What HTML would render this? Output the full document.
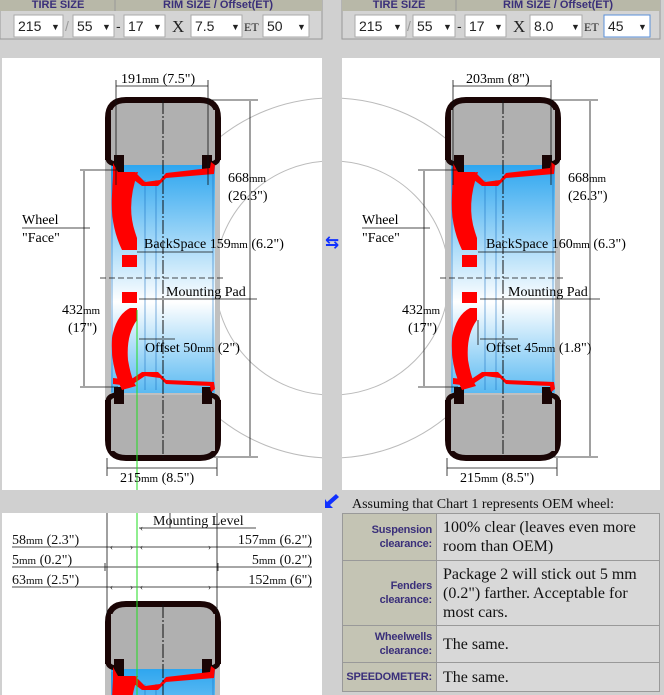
<!DOCTYPE html>
<html><head><meta charset="utf-8">
<style>
html,body{margin:0;padding:0;background:#d0d0d0;width:664px;height:695px;overflow:hidden;font-family:"Liberation Serif",serif}
svg{position:absolute;left:0;top:0}
.c{position:absolute;box-sizing:border-box;border:1px solid #999;overflow:hidden;display:flex;align-items:center}
.l{background:#c4c4b4;color:#3a2f7a;font:bold 11px/14px "Liberation Sans",sans-serif;text-align:right;justify-content:flex-end;padding:0 4px;left:342px;width:95px;letter-spacing:-0.2px}
.v{background:#d8d8d8;font:16px/19px "Liberation Serif",serif;color:#111;left:436px;width:224px;padding:0 6px}
</style></head><body>
<svg width="664" height="695" viewBox="0 0 664 695" font-family="Liberation Serif, serif">
<defs>
<linearGradient id="blue" x1="0" y1="0" x2="0" y2="1">
<stop offset="0" stop-color="#2ea6ef"/><stop offset="0.6" stop-color="#ffffff"/><stop offset="1" stop-color="#5bbaf2"/>
</linearGradient>
<clipPath id="cL"><rect x="2" y="58" width="320" height="432"/></clipPath>
<clipPath id="cR"><rect x="342" y="58" width="318" height="432"/></clipPath>
<clipPath id="cB"><rect x="2" y="513" width="320" height="182"/></clipPath>
<g id="wheel">
<rect x="105" y="160" width="115" height="240" fill="#c0c0c0"/>
<rect x="111" y="165" width="104" height="228" fill="url(#blue)"/>
<g stroke="#1a6fc0" stroke-width="0.8" opacity="0.7">
<line x1="112" y1="168" x2="112" y2="392"/><line x1="145" y1="180" x2="145" y2="390"/><line x1="156" y1="180" x2="156" y2="390"/><line x1="213" y1="168" x2="213" y2="392"/>
</g>
<path d="M108,160 L108,118 Q108,100 126,100 L200,100 Q218,100 218,118 L218,160" fill="#b0b0b0" stroke="#1a0505" stroke-width="6"/>
<rect x="111" y="110" width="104" height="55" fill="#b0b0b0"/>
<path d="M108,158 Q108,163 116,164 M218,158 Q218,163 210,164" fill="none" stroke="#1a0505" stroke-width="5"/>
<rect x="114" y="155" width="10" height="17" fill="#1a0505"/><rect x="202" y="155" width="10" height="17" fill="#1a0505"/>
<path d="M108,400 L108,440 Q108,458 126,458 L200,458 Q218,458 218,440 L218,400" fill="#b0b0b0" stroke="#1a0505" stroke-width="6"/>
<rect x="111" y="395" width="104" height="56" fill="#b0b0b0"/>
<path d="M108,402 Q108,396 116,395 M218,402 Q218,396 210,395" fill="none" stroke="#1a0505" stroke-width="5"/>
<rect x="114" y="387" width="10" height="17" fill="#1a0505"/><rect x="202" y="387" width="10" height="17" fill="#1a0505"/>
<path d="M113,163 L118,172 L135,172 L145,182 L160,180 L166,173 L210,168 L211,162 L215,165 L214,174 L166,178 L158,186 L142,186 L130,177 L113,176 Z" fill="#f00"/>
<path d="M113,175 L138,172 Q126,205 135,232 L137,238 L137,250 L122,250 Q110,225 112,195 Z" fill="#f00"/>
<rect x="122" y="255" width="15" height="12" fill="#f00"/>
<rect x="122" y="292" width="15" height="11" fill="#f00"/>
<path d="M137,308 L137,320 Q126,335 128,360 Q131,378 136,386 L122,390 Q110,365 112,338 Q116,315 130,308 Z" fill="#f00"/>
<path d="M113,384 L130,386 L145,376 L160,378 L166,384 L210,386 L211,392 L215,389 L214,382 L166,380 L158,372 L142,372 L130,380 L113,378 Z" fill="#f00"/>
<line x1="163" y1="100" x2="163" y2="458" stroke="#111" stroke-width="1" stroke-dasharray="14,2,2,2"/>
</g>
</defs>

<rect x="0" y="0" width="322" height="39" fill="#d4d4d4" stroke="#999"/>
<rect x="0" y="0" width="322" height="11" fill="#b8b8a8"/><line x1="115" y1="0" x2="115" y2="11" stroke="#999"/>
<text x="58" y="8" font-family="Liberation Sans,sans-serif" font-size="11" font-weight="bold" fill="#3a2f7a" text-anchor="middle">TIRE SIZE</text>
<text x="218" y="8" font-family="Liberation Sans,sans-serif" font-size="11" font-weight="bold" fill="#3a2f7a" text-anchor="middle">RIM SIZE / Offset(ET)</text>
<rect x="342" y="0" width="318" height="39" fill="#d4d4d4" stroke="#999"/>
<rect x="342" y="0" width="318" height="11" fill="#b8b8a8"/><line x1="456" y1="0" x2="456" y2="11" stroke="#999"/>
<text x="399" y="8" font-family="Liberation Sans,sans-serif" font-size="11" font-weight="bold" fill="#3a2f7a" text-anchor="middle">TIRE SIZE</text>
<text x="558" y="8" font-family="Liberation Sans,sans-serif" font-size="11" font-weight="bold" fill="#3a2f7a" text-anchor="middle">RIM SIZE / Offset(ET)</text>
<g font-family="Liberation Sans,sans-serif" font-size="14" fill="#222">
<g fill="#fff" stroke="#aaa">
<rect x="14" y="15" width="49" height="22"/><rect x="73" y="15" width="41" height="22"/><rect x="124" y="15" width="41" height="22"/><rect x="191" y="15" width="51" height="22"/><rect x="263" y="15" width="46" height="22"/>
<rect x="355" y="15" width="51" height="22"/><rect x="413" y="15" width="42" height="22"/><rect x="465" y="15" width="41" height="22"/><rect x="530" y="15" width="52" height="22"/><rect x="604" y="15" width="46" height="22" stroke="#5a8fd8"/>
</g>
<text x="18" y="31">215</text><text x="51" y="30" font-size="9">▼</text><text x="65" y="31" fill="#999">/</text>
<text x="77" y="31">55</text><text x="102" y="30" font-size="9">▼</text><text x="116" y="31">-</text>
<text x="128" y="31">17</text><text x="153" y="30" font-size="9">▼</text>
<text x="172" y="32" font-family="Liberation Serif,serif" font-size="17">X</text>
<text x="195" y="31">7.5</text><text x="231" y="30" font-size="9">▼</text>
<text x="244" y="31" font-family="Liberation Serif,serif" font-size="12">ET</text>
<text x="267" y="31">50</text><text x="297" y="30" font-size="9">▼</text>
<text x="359" y="31">215</text><text x="393" y="30" font-size="9">▼</text><text x="407" y="31" fill="#999">/</text>
<text x="417" y="31">55</text><text x="443" y="30" font-size="9">▼</text><text x="457" y="31">-</text>
<text x="469" y="31">17</text><text x="494" y="30" font-size="9">▼</text>
<text x="513" y="32" font-family="Liberation Serif,serif" font-size="17">X</text>
<text x="534" y="31">8.0</text><text x="571" y="30" font-size="9">▼</text>
<text x="584" y="31" font-family="Liberation Serif,serif" font-size="12">ET</text>
<text x="608" y="31">45</text><text x="638" y="30" font-size="9">▼</text>
</g>

<rect x="2" y="58" width="320" height="432" fill="#fff"/>
<rect x="342" y="58" width="318" height="432" fill="#fff"/>
<g fill="none" stroke="#bbb" stroke-width="1">
<g clip-path="url(#cL)"><circle cx="332" cy="278" r="180"/><circle cx="332" cy="278" r="117"/></g>
<g clip-path="url(#cR)"><circle cx="332" cy="278" r="180"/><circle cx="332" cy="278" r="117"/></g>
</g>
<text x="332" y="248" font-family="DejaVu Sans,sans-serif" font-size="17" font-weight="bold" fill="#1030ff" text-anchor="middle">⇆</text>

<use href="#wheel"/>
<g stroke="#111" stroke-width="0.8" fill="none">
<line x1="116" y1="80" x2="116" y2="185"/><line x1="208" y1="80" x2="208" y2="185"/><line x1="116" y1="86" x2="208" y2="86"/>
<line x1="210" y1="100" x2="258" y2="100"/><line x1="210" y1="457" x2="258" y2="457"/><line x1="250" y1="101" x2="250" y2="456"/>
<line x1="80" y1="170" x2="118" y2="170"/><line x1="80" y1="387" x2="118" y2="387"/><line x1="84" y1="171" x2="84" y2="386"/>
<line x1="22" y1="228" x2="90" y2="228"/>
<line x1="107" y1="458" x2="107" y2="476"/><line x1="217" y1="458" x2="217" y2="476"/><line x1="107" y1="468" x2="217" y2="468"/>
<line x1="137" y1="252" x2="213" y2="252"/>
<line x1="100" y1="278" x2="225" y2="278" stroke-dasharray="6,3"/>
<line x1="139" y1="299" x2="257" y2="299"/>
<line x1="137" y1="320" x2="137" y2="345"/><line x1="139" y1="339" x2="175" y2="339"/>
</g>
<line x1="137" y1="310" x2="137" y2="490" stroke="#22dd22" stroke-width="1"/>
<text x="121" y="83" font-size="14">191<tspan font-size="11">mm</tspan> (7.5")</text>
<text x="228" y="182" font-size="14">668<tspan font-size="11">mm</tspan></text><text x="228" y="200" font-size="14">(26.3")</text>
<text x="22" y="224" font-size="14">Wheel</text><text x="22" y="242" font-size="14">"Face"</text>
<text x="144" y="248" font-size="14">BackSpace 159<tspan font-size="11">mm</tspan> (6.2")</text>
<text x="166" y="296" font-size="14">Mounting Pad</text>
<text x="62" y="314" font-size="14">432<tspan font-size="11">mm</tspan></text><text x="68" y="332" font-size="14">(17")</text>
<text x="145" y="352" font-size="14">Offset 50<tspan font-size="11">mm</tspan> (2")</text>
<text x="120" y="482" font-size="14">215<tspan font-size="11">mm</tspan> (8.5")</text>

<use href="#wheel" transform="translate(340,0)"/>
<g stroke="#111" stroke-width="0.8" fill="none">
<line x1="453" y1="80" x2="453" y2="185"/><line x1="551" y1="80" x2="551" y2="185"/><line x1="453" y1="86" x2="551" y2="86"/>
<line x1="550" y1="100" x2="598" y2="100"/><line x1="550" y1="457" x2="598" y2="457"/><line x1="590" y1="101" x2="590" y2="456"/>
<line x1="418" y1="170" x2="458" y2="170"/><line x1="418" y1="387" x2="458" y2="387"/><line x1="424" y1="171" x2="424" y2="386"/>
<line x1="362" y1="228" x2="430" y2="228"/>
<line x1="447" y1="458" x2="447" y2="476"/><line x1="557" y1="458" x2="557" y2="476"/><line x1="447" y1="468" x2="557" y2="468"/>
<line x1="478" y1="252" x2="556" y2="252"/>
<line x1="440" y1="278" x2="566" y2="278" stroke-dasharray="6,3"/>
<line x1="480" y1="299" x2="600" y2="299"/>
<line x1="478" y1="320" x2="478" y2="345"/><line x1="480" y1="339" x2="518" y2="339"/>
</g>
<text x="466" y="83" font-size="14">203<tspan font-size="11">mm</tspan> (8")</text>
<text x="568" y="182" font-size="14">668<tspan font-size="11">mm</tspan></text><text x="568" y="200" font-size="14">(26.3")</text>
<text x="362" y="224" font-size="14">Wheel</text><text x="362" y="242" font-size="14">"Face"</text>
<text x="486" y="248" font-size="14">BackSpace 160<tspan font-size="11">mm</tspan> (6.3")</text>
<text x="508" y="296" font-size="14">Mounting Pad</text>
<text x="402" y="314" font-size="14">432<tspan font-size="11">mm</tspan></text><text x="408" y="332" font-size="14">(17")</text>
<text x="486" y="352" font-size="14">Offset 45<tspan font-size="11">mm</tspan> (1.8")</text>
<text x="460" y="482" font-size="14">215<tspan font-size="11">mm</tspan> (8.5")</text>

<rect x="2" y="513" width="320" height="182" fill="#fff"/>
<g clip-path="url(#cB)"><use href="#wheel" transform="translate(0,504)"/></g>
<g stroke="#111" stroke-width="0.8" fill="none">
<line x1="107" y1="513" x2="107" y2="615"/><line x1="217" y1="513" x2="217" y2="615"/><line x1="170" y1="513" x2="170" y2="528"/>
<line x1="12" y1="547" x2="312" y2="547"/><line x1="12" y1="567" x2="312" y2="567"/><line x1="12" y1="587" x2="312" y2="587"/>
<line x1="139" y1="528" x2="256" y2="528"/>
<line x1="105" y1="563" x2="105" y2="571"/><line x1="218" y1="563" x2="218" y2="571"/>
</g>
<line x1="137" y1="513" x2="137" y2="695" stroke="#22dd22" stroke-width="1"/>
<g font-size="9" fill="#111">
<text x="110" y="550">‹</text><text x="130" y="550">›</text><text x="140" y="550">‹</text><text x="208" y="550">›</text>
<text x="110" y="590">‹</text><text x="130" y="590">›</text><text x="140" y="590">‹</text><text x="208" y="590">›</text>
<text x="140" y="531">‹</text>
</g>
<g font-size="14" fill="#111">
<text x="153" y="525">Mounting Level</text>
<text x="12" y="544">58<tspan font-size="11">mm</tspan> (2.3")</text>
<text x="312" y="544" text-anchor="end">157<tspan font-size="11">mm</tspan> (6.2")</text>
<text x="12" y="564">5<tspan font-size="11">mm</tspan> (0.2")</text>
<text x="312" y="564" text-anchor="end">5<tspan font-size="11">mm</tspan> (0.2")</text>
<text x="12" y="584">63<tspan font-size="11">mm</tspan> (2.5")</text>
<text x="312" y="584" text-anchor="end">152<tspan font-size="11">mm</tspan> (6")</text>
</g>

<path d="M325,508 L333,508 L330,505 L339,497 L336,494 L327,502 L325,499 Z" fill="#1030ff"/>
<text x="352" y="508" font-size="14" fill="#111">Assuming that Chart 1 represents OEM wheel:</text>
</svg>
<div class="c l" style="top:513px;height:48px">Suspension<br>clearance:</div>
<div class="c v" style="top:513px;height:48px">100% clear (leaves even more room than OEM)</div>
<div class="c l" style="top:560px;height:66px">Fenders<br>clearance:</div>
<div class="c v" style="top:560px;height:66px">Package 2 will stick out 5 mm (0.2") farther. Acceptable for most cars.</div>
<div class="c l" style="top:625px;height:38px">Wheelwells<br>clearance:</div>
<div class="c v" style="top:625px;height:38px">The same.</div>
<div class="c l" style="top:662px;height:30px">SPEEDOMETER:</div>
<div class="c v" style="top:662px;height:30px">The same.</div>
</body></html>
